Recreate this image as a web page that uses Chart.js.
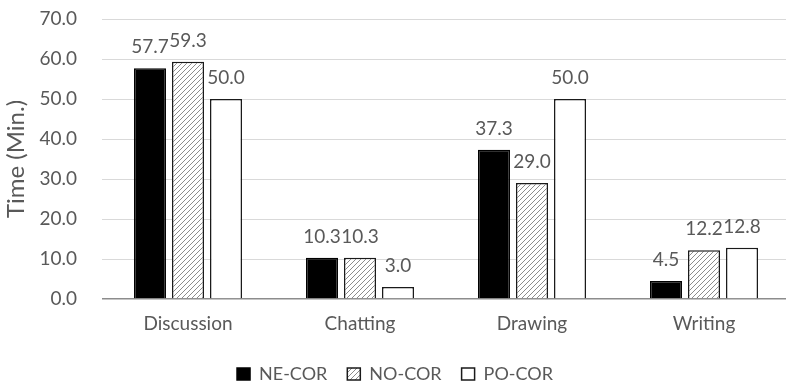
<!DOCTYPE html>
<html>
<head>
<meta charset="utf-8">
<script src="https://cdn.jsdelivr.net/npm/chart.js@4/dist/chart.umd.min.js"></script>
<style>
  html, body { margin: 0; padding: 0; background: #fff; overflow: hidden; }
  #wrap { width: 796px; height: 387px; }
</style>
</head>
<body>
<div id="wrap"><canvas id="c" width="796" height="387"></canvas></div>
<script>
// Time spent per activity (minutes) for each group
const categories = ['Discussion', 'Chatting', 'Drawing', 'Writing'];
const neCor = [57.7, 10.3, 37.3, 4.5];
const noCor = [59.3, 10.3, 29.0, 12.2];
const poCor = [50.0, 3.0, 50.0, 12.8];
const seriesNames = ['NE-COR', 'NO-COR', 'PO-COR'];
const yMin = 0, yMax = 70, yStep = 10;

const TEXT = '#595959';
const FONT = 'Lato';

const canvas = document.getElementById('c');
const ctx = canvas.getContext('2d');

// Diagonal hatch fill for the middle series
function makeHatch() {
  const s = 5;
  const p = document.createElement('canvas');
  p.width = s; p.height = s;
  const g = p.getContext('2d');
  g.fillStyle = '#ffffff';
  g.fillRect(0, 0, s, s);
  g.strokeStyle = '#8c8c8c';
  g.lineWidth = 1;
  g.beginPath();
  g.moveTo(0, s); g.lineTo(s, 0);
  g.moveTo(-1, 1); g.lineTo(1, -1);
  g.moveTo(s - 1, s + 1); g.lineTo(s + 1, s - 1);
  g.stroke();
  return ctx.createPattern(p, 'repeat');
}
const hatch = makeHatch();

// Value labels above each bar
const valueLabels = {
  id: 'valueLabels',
  afterDatasetsDraw(chart) {
    const c = chart.ctx;
    c.save();
    c.font = `19px ${FONT}`;
    c.fillStyle = TEXT;
    c.textAlign = 'center';
    c.textBaseline = 'alphabetic';
    chart.data.datasets.forEach((ds, i) => {
      const meta = chart.getDatasetMeta(i);
      meta.data.forEach((bar, j) => {
        c.fillText(ds.data[j].toFixed(1), bar.x, bar.y - 15);
      });
    });
    c.restore();
  }
};

new Chart(ctx, {
  type: 'bar',
  data: {
    labels: categories,
    datasets: [
      { label: seriesNames[0], data: neCor, backgroundColor: '#000000', borderColor: '#000000', borderWidth: 1.5 },
      { label: seriesNames[1], data: noCor, backgroundColor: hatch, borderColor: '#1a1a1a', borderWidth: 1.5 },
      { label: seriesNames[2], data: poCor, backgroundColor: '#ffffff', borderColor: '#1a1a1a', borderWidth: 1.5 }
    ]
  },
  options: {
    responsive: false,
    animation: false,
    events: [],
    devicePixelRatio: 1,
    layout: { padding: { top: 19, right: 6, left: 0, bottom: -6 } },
    datasets: { bar: { categoryPercentage: 0.663, barPercentage: 0.842 } },
    plugins: {
      tooltip: { enabled: false },
      legend: {
        position: 'bottom',
        labels: {
          boxWidth: 13,
          boxHeight: 12,
          padding: 20,
          color: TEXT,
          font: { family: FONT, size: 18 }
        }
      }
    },
    scales: {
      x: {
        grid: { display: false, drawTicks: false },
        border: { display: false },
        ticks: { color: TEXT, font: { family: FONT, size: 19 }, padding: 13 },
        afterFit(s) { s.height = 46; }
      },
      y: {
        min: yMin,
        max: yMax,
        ticks: {
          stepSize: yStep,
          color: TEXT,
          font: { family: FONT, size: 19 },
          padding: 0,
          callback: v => v.toFixed(1)
        },
        grid: {
          drawTicks: true,
          tickLength: 25,
          tickColor: 'rgba(0,0,0,0)',
          color: c => (c.tick && c.tick.value === 0) ? '#8c8c8c' : '#d9d9d9',
          lineWidth: c => (c.tick && c.tick.value === 0) ? 1.5 : 1
        },
        border: { display: false },
        title: {
          display: true,
          text: 'Time (Min.)',
          color: TEXT,
          font: { family: FONT, size: 24 },
          padding: { top: 2, bottom: 0 }
        },
        afterFit(s) { s.width = 102; }
      }
    }
  },
  plugins: [valueLabels]
});
</script>
</body>
</html>
